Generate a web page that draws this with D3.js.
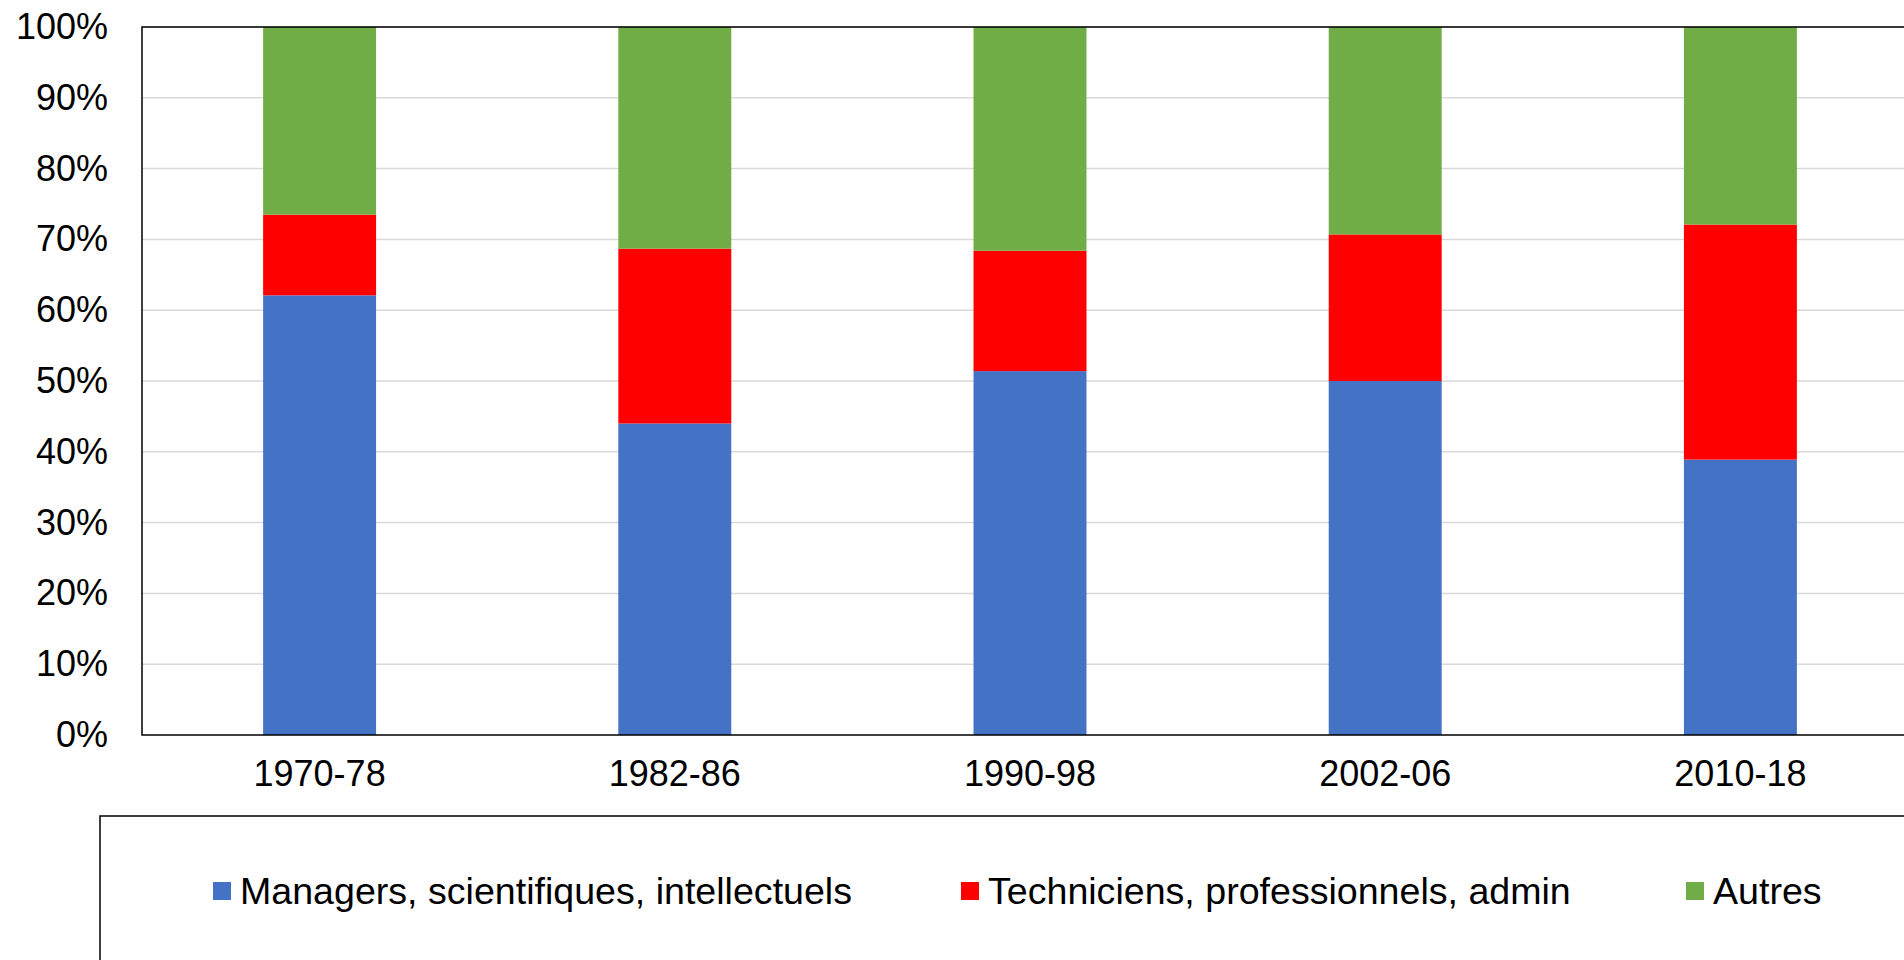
<!DOCTYPE html>
<html><head><meta charset="utf-8">
<script src="https://cdn.jsdelivr.net/npm/d3@7"></script>
<style>html,body{margin:0;padding:0;background:#fff;overflow:hidden}svg{display:block}</style>
</head><body>
<svg id="c" width="1904" height="960"></svg>
<script>
const categories = ["1970-78","1982-86","1990-98","2002-06","2010-18"];
const seriesNames = ["Managers, scientifiques, intellectuels","Techniciens, professionnels, admin","Autres"];
const managers = [62.1, 44.0, 51.4, 50.0, 38.9];
const techniciens = [11.4, 24.7, 17.0, 20.7, 33.2];
const autres = [26.5, 31.3, 31.6, 29.3, 27.9];
const colors = ["#4472C4","#FF0000","#70AD47"];
const yTicks = [0,10,20,30,40,50,60,70,80,90,100];

(function(){
const svg = d3.select("#c");
const font = "'Liberation Sans', Arial, sans-serif";
const pLeft = 142, pTop = 27, pBottom = 735, plotW = 1776;

const rows = categories.map((c,i)=>({cat:c, m:managers[i], t:techniciens[i], a:autres[i]}));
const stack = d3.stack().keys(["m","t","a"])(rows);

const x = d3.scaleBand().domain(categories).range([pLeft, pLeft+plotW]).paddingInner(0.682).paddingOuter(0.341);
const y = d3.scaleLinear().domain([0,100]).range([pBottom, pTop]);

svg.append("g").selectAll("line").data(yTicks.filter(d=>d>0)).join("line")
  .attr("x1", pLeft).attr("x2", pLeft+plotW)
  .attr("y1", d=>y(d)).attr("y2", d=>y(d))
  .attr("stroke", "#d9d9d9").attr("stroke-width", 1.5);

svg.append("g").selectAll("g").data(stack).join("g")
  .attr("fill", (d,i)=>colors[i])
  .selectAll("rect").data(d=>d).join("rect")
  .attr("x", d=>x(d.data.cat)).attr("width", x.bandwidth())
  .attr("y", d=>y(d[1])).attr("height", d=>y(d[0])-y(d[1]));

svg.append("rect").attr("x", pLeft).attr("y", pTop).attr("width", plotW).attr("height", pBottom-pTop)
  .attr("fill","none").attr("stroke","#000").attr("stroke-width",1.5);

const ya = svg.append("g").attr("transform", `translate(${pLeft},0)`)
  .call(d3.axisLeft(y).tickValues(yTicks).tickFormat(d=>d+"%").tickSize(0).tickPadding(34));
ya.select(".domain").remove();
ya.selectAll("text").attr("font-family", font).attr("font-size", 36).attr("fill","#000");

const xa = svg.append("g").attr("transform", `translate(0,${pBottom})`)
  .call(d3.axisBottom(x).tickSize(0).tickPadding(25));
xa.select(".domain").remove();
xa.selectAll("text").attr("font-family", font).attr("font-size", 36).attr("fill","#000");

svg.append("rect").attr("x", 100).attr("y", 816).attr("width", 1900).attr("height", 300)
  .attr("fill","none").attr("stroke","#000").attr("stroke-width",1.5);

const legX = [213, 961, 1686];
const lg = svg.append("g").selectAll("g").data(seriesNames).join("g")
  .attr("transform", (d,i)=>`translate(${legX[i]},882)`);
lg.append("rect").attr("width",18).attr("height",18).attr("fill",(d,i)=>colors[i]);
lg.append("text").attr("x",27).attr("y",9).attr("dy","0.35em")
  .attr("font-family", font).attr("font-size",37.6).attr("fill","#000").text(d=>d);
})();
</script>
</body></html>
